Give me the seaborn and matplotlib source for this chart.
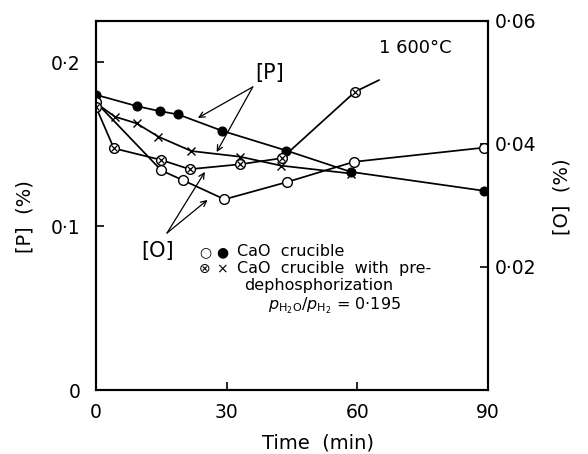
import matplotlib
matplotlib.use("Agg")
import matplotlib.pyplot as plt
import seaborn as sns
import pandas as pd

# [P] content, CaO crucible (filled circles, left axis)
p_cao_time = [0, 9.5, 14.7, 18.9, 29.0, 43.7, 58.5, 89.0]
p_cao = [0.180, 0.173, 0.170, 0.168, 0.158, 0.146, 0.133, 0.1215]

# [P] content, CaO crucible with pre-dephosphorization (crosses, left axis)
p_pre_time = [0, 4.3, 9.3, 14.3, 21.9, 33.0, 42.5, 58.5]
p_pre = [0.175, 0.1667, 0.1626, 0.1545, 0.1457, 0.1423, 0.1368, 0.132]

# [O] content, CaO crucible (open circles, right axis)
o_cao_time = [0, 15.0, 20.0, 29.5, 43.8, 59.2, 89.0]
o_cao = [0.0468, 0.0357, 0.0341, 0.0310, 0.0338, 0.0371, 0.0394]

# [O] content, with pre-dephosphorization (circled crosses, right axis)
o_pre_time = [0, 4.1, 15.0, 21.5, 33.1, 42.7, 59.5]
o_pre = [0.0460, 0.0393, 0.0374, 0.0359, 0.0367, 0.0377, 0.0485]
# the drawn curve runs on a little past the last measurement
o_pre_curve_end_time = 65.0
o_pre_curve_end = 0.0504

x_ticks = [0, 30, 60, 90]
x_tick_labels = ["0", "30", "60", "90"]
p_ticks = [0, 0.1, 0.2]
p_tick_labels = ["0", "0·1", "0·2"]
o_ticks = [0.02, 0.04, 0.06]
o_tick_labels = ["0·02", "0·04", "0·06"]

sns.set_style("ticks")
plt.rcParams["font.family"] = ["DejaVu Sans"]
plt.rcParams["mathtext.fontset"] = "dejavusans"
for key in ("text.color", "axes.labelcolor", "xtick.color", "ytick.color",
            "xtick.labelcolor", "ytick.labelcolor"):
    plt.rcParams[key] = "black"

fig = plt.figure(figsize=(5.88, 4.54), dpi=100)
ax = fig.add_axes([96 / 588, 1 - 390 / 454, 392 / 588, 369 / 454])
ax2 = ax.twinx()

lw = 1.25
line_kw = dict(color="black", linewidth=lw, legend=False)

# [P] curves
sns.lineplot(x=p_cao_time, y=p_cao, ax=ax, marker="o", markersize=6.5,
             markerfacecolor="black", markeredgecolor="black", **line_kw)
sns.lineplot(x=p_pre_time, y=p_pre, ax=ax, marker="x", markersize=5.5,
             markeredgewidth=1.0, markeredgecolor="black", **line_kw)

# [O] curves
sns.lineplot(x=o_cao_time, y=o_cao, ax=ax2, marker="o", markersize=7,
             markerfacecolor="white", markeredgecolor="black",
             markeredgewidth=1.0, **line_kw)
o_pre_curve = pd.DataFrame({"t": o_pre_time + [o_pre_curve_end_time],
                            "o": o_pre + [o_pre_curve_end]})
sns.lineplot(data=o_pre_curve, x="t", y="o", ax=ax2, **line_kw)
sns.lineplot(x=o_pre_time, y=o_pre, ax=ax2, marker="o", markersize=7,
             markerfacecolor="white", markeredgecolor="black",
             markeredgewidth=1.0, linestyle="", color="black", legend=False)
sns.lineplot(x=o_pre_time, y=o_pre, ax=ax2, marker="x", markersize=4,
             markeredgewidth=0.9, markeredgecolor="black",
             linestyle="", color="black", legend=False)

# axes ranges and ticks
ax.set_xlim(0, 90)
ax.set_ylim(0, 0.225)
ax2.set_ylim(0, 0.06)
ax.set_xticks(x_ticks, x_tick_labels)
ax.set_yticks(p_ticks, p_tick_labels)
ax2.set_yticks(o_ticks, o_tick_labels)

for a in (ax, ax2):
    for s in a.spines.values():
        s.set_visible(True)
        s.set_linewidth(1.5)
        s.set_color("black")
ax.tick_params(axis="x", direction="in", length=6, width=1.2, pad=9,
               labelsize=13.5, top=False, colors="black")
ax.tick_params(axis="y", direction="in", length=6, width=1.2, pad=11,
               labelsize=13.5, right=False, colors="black")
ax2.tick_params(axis="y", direction="in", length=6, width=1.2, pad=5,
                labelsize=13.5, colors="black")

ax.set_xlabel("Time  (min)", fontsize=14, va="center", color="black")
ax.xaxis.set_label_coords(0.566, -0.144)
ax.set_ylabel("[P]  (%)", fontsize=14, va="center", color="black")
ax.yaxis.set_label_coords(-0.181, 0.469)
ax2.set_ylabel("[O]  (%)", fontsize=14, va="center", rotation=90, color="black")
ax2.yaxis.set_label_coords(1.189, 0.523)

# labels with pointer arrows
arrow = dict(arrowstyle="->", color="black", lw=0.9, shrinkA=0, shrinkB=0)
ax.text(39.8, 0.193, "[P]", fontsize=15, ha="center", va="center")
ax.annotate("", xy=(23.4, 0.1659), xytext=(36.0, 0.1848), arrowprops=arrow)
ax.annotate("", xy=(27.7, 0.1451), xytext=(36.0, 0.1848), arrowprops=arrow)
ax.text(14.2, 0.0848, "[O]", fontsize=15, ha="center", va="center")
ax.annotate("", xy=(25.0, 0.133), xytext=(16.3, 0.0957), arrowprops=arrow)
ax.annotate("", xy=(25.6, 0.1159), xytext=(16.3, 0.0957), arrowprops=arrow)

ax.text(0.814, 0.927, "1 600°C", transform=ax.transAxes, fontsize=13,
        ha="center", va="center")

# key
fs = 11.5
ax.text(0.278, 0.374, "○", transform=ax.transAxes, fontsize=10, ha="center", va="center")
ax.text(0.321, 0.374, "●", transform=ax.transAxes, fontsize=10, ha="center", va="center")
ax.text(0.360, 0.374, "CaO  crucible", transform=ax.transAxes, fontsize=fs, va="center")
ax.text(0.278, 0.328, "⊗", transform=ax.transAxes, fontsize=10, ha="center", va="center")
ax.text(0.321, 0.328, "×", transform=ax.transAxes, fontsize=10, ha="center", va="center")
ax.text(0.360, 0.328, "CaO  crucible  with  pre-", transform=ax.transAxes, fontsize=fs, va="center")
ax.text(0.378, 0.284, "dephosphorization", transform=ax.transAxes, fontsize=fs, va="center")
ax.text(0.439, 0.228, r"$p_{\mathrm{H_2O}}/p_{\mathrm{H_2}}$ = 0·195",
        transform=ax.transAxes, fontsize=fs, va="center")

fig.savefig("out.png", dpi=100)
